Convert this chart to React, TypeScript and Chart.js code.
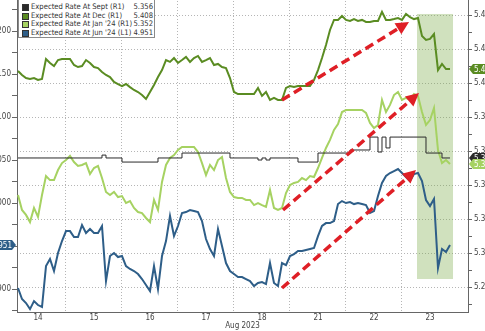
import { useEffect, useRef } from 'react';
import { Chart, registerables } from 'chart.js';

Chart.register(...registerables);

const FONT = "'DejaVu Sans Condensed', 'Liberation Sans Narrow', 'Arial Narrow', sans-serif";

// ---- categories / axis labels ----
const dayLabels = ['14', '15', '16', '17', '18', '21', '22', '23'];
const dayBoundaries = [1, 2, 3, 4, 5, 6, 7];
const xAxisTitle = 'Aug 2023';
const rightMajorTicks = [5.28, 5.3, 5.32, 5.34, 5.36, 5.38, 5.4, 5.42, 5.44];
const rightMinorTicks = [5.27, 5.29, 5.31, 5.33, 5.35, 5.37, 5.39, 5.41, 5.43, 5.45];
const leftMajorTicks = [4.9, 4.95, 5.0, 5.05, 5.1, 5.15, 5.2];
const leftMinorTicks = [4.875, 4.925, 4.975, 5.025, 5.075, 5.125, 5.175, 5.225];

// sampling of the intraday series (in trading-day units)
const sampleStart = 2 / 14;
const samplesPerDay = 14;

// ---- series values ----
const septRate = [
  5.3559, 5.3559, 5.3559, 5.3559, 5.3559, 5.3559, 5.3559, 5.3559, 5.3559, 5.3559,
  5.3559, 5.3559, 5.3559, 5.3559, 5.3559, 5.3559, 5.3559, 5.3559, 5.3559, 5.3559,
  5.3559, 5.3576, 5.3559, 5.3559, 5.3559, 5.3559, 5.3535, 5.3535, 5.3535, 5.3535,
  5.3535, 5.3535, 5.3535, 5.3535, 5.3535, 5.3559, 5.3559, 5.3559, 5.3559, 5.3559,
  5.3559, 5.3588, 5.3588, 5.3588, 5.3588, 5.3588, 5.3588, 5.3588, 5.3588, 5.3588,
  5.3588, 5.3588, 5.3588, 5.3559, 5.3559, 5.3559, 5.3559, 5.3559, 5.3559, 5.3559,
  5.3547, 5.3559, 5.3547, 5.3559, 5.3559, 5.3559, 5.3559, 5.3559, 5.3559, 5.3559,
  5.3535, 5.3535, 5.3535, 5.3535, 5.3535, 5.3588, 5.3588, 5.3588, 5.3588, 5.3588,
  5.3588, 5.3588, 5.3588, 5.3606, 5.3606, 5.3606, 5.3606, 5.3606, 5.3682, 5.3682,
  5.3594, 5.3682, 5.3618, 5.3682, 5.3682, 5.3682, 5.3682, 5.3682, 5.3682, 5.3682,
  5.3682, 5.3682, 5.3588, 5.3588, 5.3588, 5.3588, 5.3559, 5.3559, 5.3559,
];

const decRate = [
  5.4071, 5.4047, 5.4029, 5.4024, 5.4029, 5.4018, 5.4024, 5.4141, 5.4118, 5.41,
  5.4135, 5.4141, 5.4141, 5.4141, 5.4106, 5.4094, 5.41, 5.4135, 5.4118, 5.4094,
  5.4088, 5.4065, 5.4047, 5.4035, 5.4006, 5.3994, 5.3982, 5.3994, 5.3976, 5.3959,
  5.3947, 5.3929, 5.3906, 5.3947, 5.3988, 5.4035, 5.4076, 5.4135, 5.4124, 5.4147,
  5.4118, 5.4135, 5.4153, 5.4124, 5.4147, 5.4159, 5.4124, 5.4135, 5.4147, 5.4106,
  5.4112, 5.4094, 5.4088, 5.4029, 5.3947, 5.3935, 5.3935, 5.3935, 5.3935, 5.3935,
  5.3971, 5.3924, 5.3947, 5.39, 5.3912, 5.39, 5.39, 5.3971, 5.3982, 5.3976,
  5.3982, 5.3982, 5.3982, 5.3982, 5.4018, 5.4076, 5.4147, 5.4224, 5.4312, 5.4371,
  5.4371, 5.4394, 5.4371, 5.4365, 5.4376, 5.4365, 5.4371, 5.4359, 5.4359, 5.4365,
  5.4365, 5.4418, 5.4371, 5.4371, 5.4376, 5.4382, 5.4371, 5.4406, 5.4388, 5.4376,
  5.4382, 5.4276, 5.4253, 5.4259, 5.4288, 5.4076, 5.4112, 5.4082, 5.4082,
];

const jan24Rate = [
  5.3341, 5.3253, 5.3224, 5.3182, 5.3265, 5.3212, 5.3341, 5.3453, 5.3429, 5.3429,
  5.3488, 5.3529, 5.3547, 5.3571, 5.3535, 5.3512, 5.3518, 5.3529, 5.3465, 5.35,
  5.3512, 5.3441, 5.3359, 5.3341, 5.3359, 5.3329, 5.3335, 5.3294, 5.3306, 5.3265,
  5.3241, 5.3235, 5.3206, 5.3182, 5.3312, 5.3253, 5.3418, 5.3518, 5.3559, 5.3576,
  5.3606, 5.3624, 5.3624, 5.3624, 5.3624, 5.3594, 5.3529, 5.3459, 5.3518, 5.3488,
  5.3547, 5.3565, 5.3441, 5.3359, 5.3329, 5.3324, 5.3324, 5.3312, 5.3312, 5.3282,
  5.3294, 5.3282, 5.3271, 5.3371, 5.3265, 5.3253, 5.3265, 5.3353, 5.34, 5.3412,
  5.3418, 5.3441, 5.3429, 5.3453, 5.3447, 5.35, 5.3559, 5.3618, 5.3665, 5.3724,
  5.3759, 5.3829, 5.3841, 5.3841, 5.3841, 5.3841, 5.3841, 5.3824, 5.3765, 5.3735,
  5.3753, 5.39, 5.3829, 5.3871, 5.3929, 5.3947, 5.39, 5.3912, 5.39, 5.3935,
  5.3924, 5.3829, 5.3753, 5.3782, 5.3853, 5.3606, 5.3529, 5.3547, 5.3524,
];

const jun24Rate = [
  4.9012, 4.8884, 4.8837, 4.8767, 4.886, 4.8814, 4.8791, 4.9267, 4.9349, 4.9209,
  4.9419, 4.9558, 4.9674, 4.9674, 4.9605, 4.9605, 4.9744, 4.9651, 4.9698, 4.9651,
  4.9651, 4.9733, 4.9093, 4.9384, 4.9419, 4.9372, 4.9384, 4.9267, 4.9233, 4.9209,
  4.9174, 4.9116, 4.9047, 4.8977, 4.9267, 4.9, 4.9384, 4.9558, 4.9849, 4.9616,
  4.9733, 4.9884, 4.9895, 4.9919, 4.9907, 4.9895, 4.9791, 4.9581, 4.9465, 4.9384,
  4.9698, 4.95, 4.9302, 4.9209, 4.9174, 4.914, 4.914, 4.9116, 4.9093, 4.9035,
  4.907, 4.9081, 4.9058, 4.9302, 4.907, 4.9035, 4.9302, 4.9279, 4.9384, 4.9407,
  4.9442, 4.9442, 4.9453, 4.9465, 4.9477, 4.9616, 4.9733, 4.9767, 4.9767, 4.9791,
  4.9988, 5.0023, 5.0, 5.0012, 4.9988, 5.0, 4.9988, 4.9977, 4.9884, 4.9907,
  5.0081, 5.0233, 5.0314, 5.0349, 5.0372, 5.0395, 5.0349, 5.0302, 5.0256, 5.0337,
  5.0349, 5.0256, 5.0035, 4.9965, 5.0047, 4.9244, 4.9465, 4.943, 4.9512,
];

const seriesNames = [
  'Expected Rate At Sept (R1)',
  'Expected Rate At Dec (R1)',
  "Expected Rate At Jan '24 (R1)",
  "Expected Rate At Jun '24 (L1)",
];
const seriesValues = [septRate, decRate, jan24Rate, jun24Rate];
const seriesAxis = ['yR', 'yR', 'yR', 'yL'];
const seriesColors = ['#2a2a2a', '#5a8c22', '#a6d262', '#2e5e88'];
const seriesWidths = [1, 2, 2, 2];

// highlighted period (day units / right-axis rates)
const shadeDays = [7.268, 7.911];
const shadeRates = [5.2847, 5.4406];

// red trend arrows (day units / right-axis rates)
const arrowFromDay = [4.857, 4.875, 4.857];
const arrowFromRate = [5.39, 5.3253, 5.2794];
const arrowToDay = [7.125, 7.304, 7.25];
const arrowToRate = [5.4359, 5.3941, 5.3488];

const OL = 30;
const OT = 10;
const OR = 25;
const CW = 485 + OL + OR;
const CH = 331 + OT;
const LEFT_AXIS_W = 17 + OL;
const RIGHT_AXIS_W = CW - (468 + OL);
const GRID = '#b5b5b5';
const AXIS = '#666';
const TICKTXT = '#444';

const shadePlugin = {
  id: 'shade',
  beforeDatasetsDraw(chart: any) {
    const { ctx, scales } = chart;
    const x1 = scales.x.getPixelForValue(shadeDays[0]);
    const x2 = scales.x.getPixelForValue(shadeDays[1]);
    const y1 = scales.yR.getPixelForValue(shadeRates[1]);
    const y2 = scales.yR.getPixelForValue(shadeRates[0]);
    ctx.save();
    ctx.fillStyle = 'rgba(125,172,75,0.36)';
    ctx.fillRect(x1, y1, x2 - x1, y2 - y1);
    ctx.restore();
  },
};

const arrowPlugin = {
  id: 'arrows',
  afterDatasetsDraw(chart: any) {
    const { ctx, scales } = chart;
    ctx.save();
    ctx.strokeStyle = '#df1f26';
    ctx.fillStyle = '#df1f26';
    ctx.lineWidth = 3.5;
    for (let k = 0; k < arrowFromDay.length; k++) {
      const x1 = scales.x.getPixelForValue(arrowFromDay[k]);
      const y1 = scales.yR.getPixelForValue(arrowFromRate[k]);
      const x2 = scales.x.getPixelForValue(arrowToDay[k]);
      const y2 = scales.yR.getPixelForValue(arrowToRate[k]);
      const ang = Math.atan2(y2 - y1, x2 - x1);
      const headLen = 13;
      const headW = 6.5;
      const bx = x2 - headLen * Math.cos(ang);
      const by = y2 - headLen * Math.sin(ang);
      ctx.setLineDash([9, 5]);
      ctx.beginPath();
      ctx.moveTo(x1, y1);
      ctx.lineTo(bx + 2 * Math.cos(ang), by + 2 * Math.sin(ang));
      ctx.stroke();
      ctx.setLineDash([]);
      ctx.beginPath();
      ctx.moveTo(x2, y2);
      ctx.lineTo(bx + headW * Math.sin(ang), by - headW * Math.cos(ang));
      ctx.lineTo(bx - headW * Math.sin(ang), by + headW * Math.cos(ang));
      ctx.closePath();
      ctx.fill();
    }
    ctx.restore();
  },
};

const badgePlugin = {
  id: 'badges',
  afterDraw(chart: any) {
    const { ctx, chartArea } = chart;
    ctx.save();
    ctx.font = `8px ${FONT}`;
    ctx.textBaseline = 'middle';
    [0, 2, 1, 3].forEach((idx) => {
      const vals = seriesValues[idx];
      const last = vals[vals.length - 1];
      const axisId = seriesAxis[idx];
      const y = chart.scales[axisId].getPixelForValue(last);
      const w = 32;
      const h = 10;
      const tip = 4;
      ctx.fillStyle = seriesColors[idx];
      ctx.beginPath();
      if (axisId === 'yR') {
        const x0 = chartArea.right + 1;
        ctx.moveTo(x0, y);
        ctx.lineTo(x0 + tip, y - h / 2);
        ctx.lineTo(x0 + w, y - h / 2);
        ctx.lineTo(x0 + w, y + h / 2);
        ctx.lineTo(x0 + tip, y + h / 2);
        ctx.closePath();
        ctx.fill();
        ctx.fillStyle = '#fff';
        ctx.textAlign = 'left';
        ctx.fillText(last.toFixed(3), x0 + tip + 1, y + 0.5);
      } else {
        const x0 = chartArea.left - 1;
        ctx.moveTo(x0, y);
        ctx.lineTo(x0 - tip, y - h / 2);
        ctx.lineTo(x0 - w, y - h / 2);
        ctx.lineTo(x0 - w, y + h / 2);
        ctx.lineTo(x0 - tip, y + h / 2);
        ctx.closePath();
        ctx.fill();
        ctx.fillStyle = '#fff';
        ctx.textAlign = 'right';
        ctx.fillText(last.toFixed(3), x0 - tip, y + 0.5);
      }
    });
    ctx.restore();
  },
};

export default function App() {
  const ref = useRef<HTMLCanvasElement>(null);

  useEffect(() => {
    document.body.style.margin = '0';
    if (!ref.current) return;
    Chart.defaults.font.family = FONT;
    const toPoints = (vals: number[]) =>
      vals.map((v, i) => ({ x: sampleStart + i / samplesPerDay, y: v }));

    const labelPositions = dayLabels.map((_, i) => i + 0.5);

    const chart = new Chart(ref.current, {
      type: 'line',
      data: {
        datasets: seriesValues.map((vals, i) => ({
          label: seriesNames[i],
          data: toPoints(vals),
          yAxisID: seriesAxis[i],
          xAxisID: 'x',
          borderColor: seriesColors[i],
          backgroundColor: seriesColors[i],
          borderWidth: seriesWidths[i],
          pointRadius: 0,
          tension: 0,
          stepped: i === 0 ? true : false,
        })),
      },
      options: {
        animation: false,
        responsive: false,
        events: [],
        layout: { padding: { top: 8, left: 0, right: 0, bottom: 0 } },
        plugins: { legend: { display: false }, tooltip: { enabled: false } },
        scales: {
          x: {
            type: 'linear',
            position: 'bottom',
            min: 0.125,
            max: 8.1786,
            afterBuildTicks: (s: any) => {
              s.ticks = [...dayBoundaries, ...labelPositions]
                .sort((a, b) => a - b)
                .map((v) => ({ value: v }));
            },
            afterFit: (s: any) => {
              s.height = 19;
            },
            ticks: {
              autoSkip: false,
              maxRotation: 0,
              minRotation: 0,
              padding: 1,
              color: TICKTXT,
              font: { size: 8 },
              callback: (v: any) => (Number.isInteger(v) ? '' : dayLabels[Math.floor(v)]),
            },
            grid: {
              drawTicks: false,
              color: (c: any) => (c.tick && Number.isInteger(c.tick.value) ? GRID : 'rgba(0,0,0,0)'),
            },
            border: { color: AXIS, dash: [1, 2] },
            title: {
              display: true,
              text: xAxisTitle,
              color: TICKTXT,
              font: { size: 8 },
              padding: 0,
            },
          },
          yL: {
            type: 'linear',
            position: 'left',
            min: 4.8733,
            max: 5.2384,
            afterBuildTicks: (s: any) => {
              s.ticks = [...leftMajorTicks, ...leftMinorTicks]
                .sort((a, b) => a - b)
                .map((v) => ({ value: v }));
            },
            afterFit: (s: any) => {
              s.width = LEFT_AXIS_W;
            },
            ticks: {
              padding: 1,
              color: TICKTXT,
              font: { size: 8 },
              callback: (v: any) =>
                leftMajorTicks.some((m) => Math.abs(m - v) < 1e-6) ? Number(v).toFixed(3) : '',
            },
            grid: { drawOnChartArea: false, tickLength: 5, tickColor: AXIS },
            border: { color: AXIS },
          },
          yR: {
            type: 'linear',
            position: 'right',
            min: 5.2653,
            max: 5.45,
            afterBuildTicks: (s: any) => {
              s.ticks = [...rightMajorTicks, ...rightMinorTicks]
                .sort((a, b) => a - b)
                .map((v) => ({ value: v }));
            },
            afterFit: (s: any) => {
              s.width = RIGHT_AXIS_W;
            },
            ticks: {
              padding: 2,
              color: TICKTXT,
              font: { size: 8 },
              callback: (v: any) =>
                rightMajorTicks.some((m) => Math.abs(m - v) < 1e-6) ? Number(v).toFixed(2) : '',
            },
            grid: {
              tickLength: 4,
              tickColor: AXIS,
              color: (c: any) =>
                c.tick && rightMajorTicks.some((m) => Math.abs(m - c.tick.value) < 1e-6)
                  ? GRID
                  : 'rgba(0,0,0,0)',
            },
            border: { color: AXIS, dash: [1, 2] },
          },
        },
      },
      plugins: [shadePlugin, arrowPlugin, badgePlugin],
    } as any);

    return () => chart.destroy();
  }, []);

  return (
    <div
      style={{
        position: 'relative',
        width: 485,
        height: 331,
        overflow: 'hidden',
        background: '#fff',
      }}
    >
      <canvas
        ref={ref}
        width={CW}
        height={CH}
        style={{ position: 'absolute', left: -OL, top: -OT, width: CW, height: CH }}
      />
      <div
        style={{
          position: 'absolute',
          left: 18,
          top: -4,
          width: 137,
          height: 42,
          boxSizing: 'border-box',
          border: '1px solid #8a8a8a',
          background: '#fff',
          padding: '6px 1px 0 3px',
          fontFamily: FONT,
          fontSize: '7.6px',
          color: '#333',
          overflow: 'hidden',
        }}
      >
        {seriesNames.map((n, i) => (
          <div
            key={n}
            style={{ display: 'flex', alignItems: 'center', height: 8.7, lineHeight: '8.7px' }}
          >
            <span
              style={{
                display: 'inline-block',
                width: 7,
                height: 7,
                background: seriesColors[i],
                border: '1px solid #333',
                boxSizing: 'border-box',
                marginRight: 2,
                flex: 'none',
              }}
            />
            <span style={{ flex: '1 1 auto', whiteSpace: 'nowrap', minWidth: 0 }}>{n}</span>
            <span style={{ flex: 'none' }}>
              {seriesValues[i][seriesValues[i].length - 1].toFixed(3)}
            </span>
          </div>
        ))}
      </div>
    </div>
  );
}
